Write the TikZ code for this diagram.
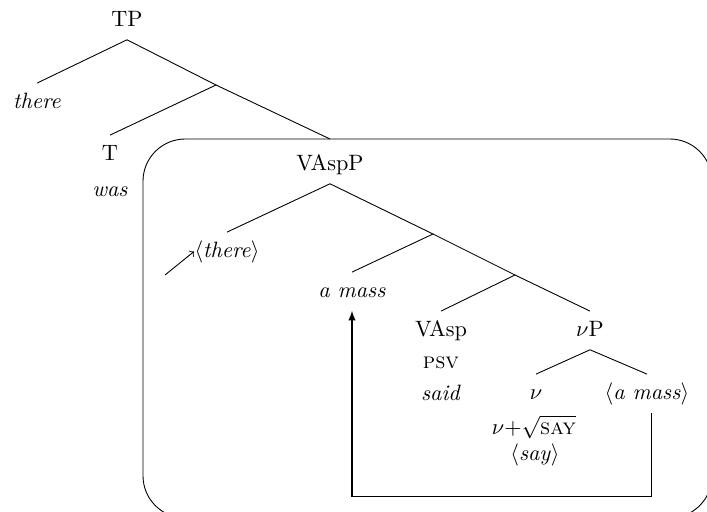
\documentclass[tikz,border=0pt]{standalone}
\usepackage{amssymb}
\usepackage{amsmath}
\usepackage{tikz}

\begin{document}
\begin{tikzpicture} [x=0.45pt, y=-0.45pt,
	lab/.style={inner sep=0pt, outer ysep=4.2pt, text height=7pt, text depth=2pt, anchor=base},
	mv/.style={-latex, line width=0.5pt}]
	\useasboundingbox (0,0) rectangle (707,511);
	\coordinate (boxNW) at (143,139);
	\coordinate (boxSE) at (712,518);
	\draw [rounded corners=19pt] (boxNW) rectangle (boxSE);
	\node [lab] (TP) at (127,26) {TP};
	\node [lab] (there) at (37,108) {\textit{there}};
	\coordinate (Tbar) at (216,85);
	\node [lab] (T) at (110,160) {T};
	\node [lab] (was) at (110,196) {\textit{was}};
	\node [lab] (VAspP) at (330,170) {VAspP};
	\node [lab] (thereB) at (227,257) {$\langle$\textit{there}$\rangle$};
	\coordinate (A) at (433,234);
	\node [lab] (amassA) at (352,297) {\textit{a mass}};
	\coordinate (B) at (515,275);
	\node [lab] (VAsp) at (441,336) {VAsp};
	\node [lab] (psv) at (441,368) {\textsc{psv}};
	\node [lab] (said) at (441,400) {\textit{said}};
	\node [lab] (vP) at (590,336) {$\nu$P};
	\node [lab] (v) at (536,399) {$\nu$};
	\node [lab] (vsay) at (534,434) {$\nu$+$\sqrt{\text{\textsc{say}}}$};
	\node [lab] (say) at (535,460) {$\langle$\textit{say}$\rangle$};
	\node [lab] (amassB) at (647,399) {$\langle$\textit{a mass}$\rangle$};
	\coordinate (arrTail) at (165,275);
	\draw (TP.south) -- (there.north);
	\draw (TP.south) -- (Tbar) -- (T.north);
	\draw (Tbar) -- (VAspP.north |- boxNW);
	\draw (VAspP.south) -- (thereB.north);
	\draw (VAspP.south) -- (A) -- (amassA.north);
	\draw (A) -- (B) -- (VAsp.north);
	\draw (B) -- (vP.north);
	\draw (vP.south) -- (v.north);
	\draw (vP.south) -- (amassB.north);
	\draw [mv] ([xshift=2pt]amassB.south) -- ++(0,84) -| (amassA.south);
	\draw [->] (arrTail) -- (thereB.west);
\end{tikzpicture}
\end{document}
